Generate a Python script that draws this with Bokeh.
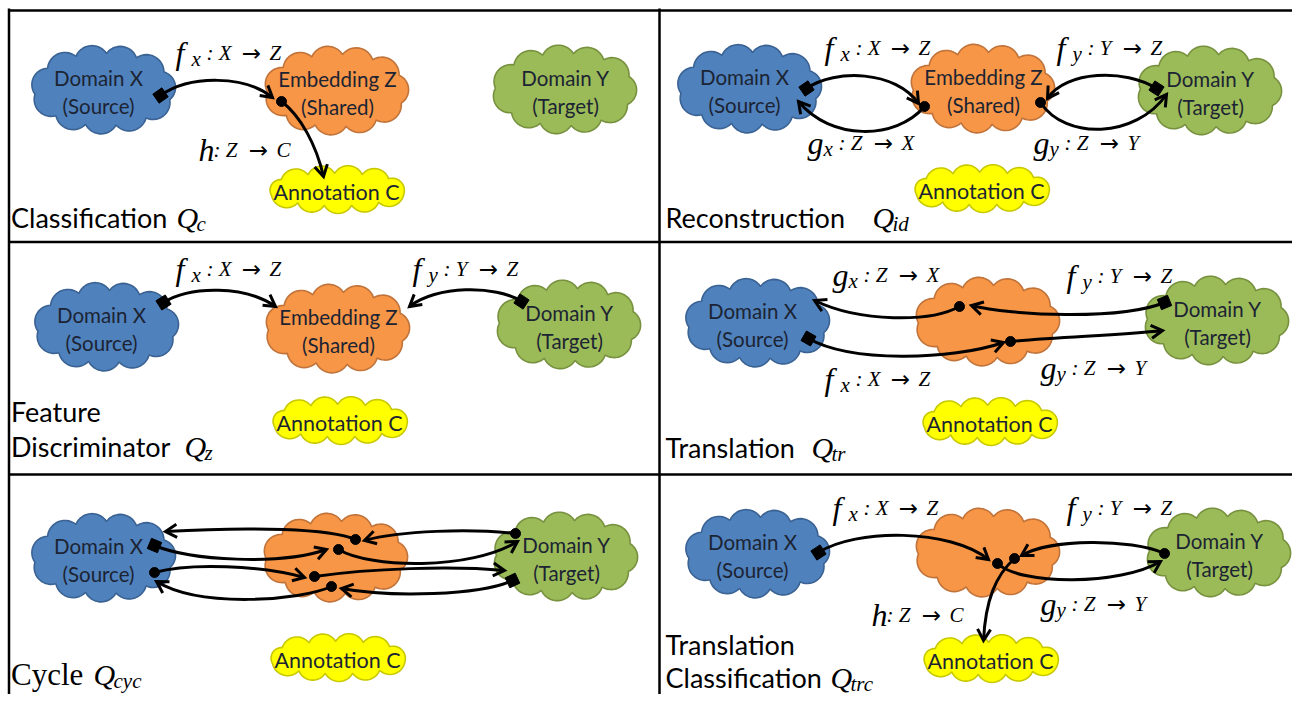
import math
from bokeh.plotting import figure
from bokeh.models import Range1d
from bokeh.embed import file_html
from bokeh.resources import INLINE
from bokeh.core.properties import value

# ---------------- content ----------------
cloud_keys = ["X", "Z", "Y", "C"]
cloud_text = {
    "X": ["Domain X", "(Source)"],
    "Z": ["Embedding Z", "(Shared)"],
    "Y": ["Domain Y", "(Target)"],
    "C": ["Annotation C"],
}
cloud_fill = {"X": "#4F81BD", "Z": "#F79646", "Y": "#9BBB59", "C": "#FFFF00"}
cloud_edge = {"X": "#3A6293", "Z": "#C0733A", "Y": "#77913F", "C": "#C8C800"}
show_z_text = [True, True, True, False, False, False]

panel_titles = [["Classification"], ["Reconstruction"], ["Feature", "Discriminator"],
                ["Translation"], ["Cycle"], ["Translation", "Classification"]]
panel_q_sub = ["c", "id", "z", "tr", "cyc", "trc"]

# cloud centres per panel (X, Z, Y, C)
cloud_cx = [[103, 336, 564, 336], [749, 982, 1209, 981], [106, 337, 568, 339],
            [757, 987, 1216, 989], [103, 335, 565, 337], [757, 987, 1218, 990]]
cloud_cy = [[89, 90, 89, 189], [88, 88, 90, 188], [326, 328, 324, 420],
            [322, 321, 320, 421], [557, 557, 556, 657], [553, 552, 552, 658]]

# curves per panel: (x0, y0, cx0, cy0, cx1, cy1, x1, y1, start marker)
curves = [
    [(160, 95, 190, 74, 245, 75, 272, 97, "sq"),
     (281, 101, 300, 115, 316, 145, 323, 176, "dot")],
    [(806, 88, 835, 68, 895, 70, 918, 103, "sq"),
     (924, 106, 895, 140, 830, 140, 798, 101, "dot"),
     (1156, 88, 1125, 68, 1065, 70, 1047, 98, "sq"),
     (1040, 102, 1065, 140, 1135, 138, 1166, 94, "dot")],
    [(163, 302, 190, 285, 245, 285, 275, 306, "sq"),
     (521, 301, 495, 284, 435, 285, 409, 306, "sq")],
    [(959, 306, 930, 322, 860, 322, 814, 300, "dot"),
     (1164, 302, 1120, 320, 1010, 315, 971, 305, "sq"),
     (808, 338, 850, 362, 950, 360, 1003, 342, "sq"),
     (1010, 341, 1060, 336, 1120, 335, 1162, 330, "dot")],
    [(515, 533, 470, 528, 400, 530, 364, 540, "dot"),
     (355, 539, 330, 528, 250, 526, 165, 531, "dot"),
     (154, 545, 190, 560, 280, 565, 326, 549, "sq"),
     (338, 549, 370, 568, 470, 570, 517, 541, "dot"),
     (154, 572, 190, 562, 260, 565, 304, 577, "dot"),
     (314, 576, 370, 568, 450, 565, 504, 570, "dot"),
     (512, 580, 480, 595, 390, 597, 341, 588, "sq"),
     (331, 586, 300, 600, 200, 608, 156, 581, "dot")],
    [(818, 552, 855, 528, 950, 528, 988, 559, "sq"),
     (1164, 553, 1130, 538, 1050, 538, 1021, 555, "dot"),
     (997, 563, 1020, 585, 1120, 585, 1160, 561, "dot"),
     (1014, 558, 995, 575, 985, 600, 983, 640, "dot")],
]

# math labels per panel: (x, centre y, letter, subscript, from, to)
math_labels = [
    [(175, 52, "f", "x", "X", "Z"), (198, 149, "h", "", "Z", "C")],
    [(824, 47, "f", "x", "X", "Z"), (1056, 47, "f", "y", "Y", "Z"),
     (807, 142, "g", "x", "Z", "X"), (1033, 142, "g", "y", "Z", "Y")],
    [(175, 268, "f", "x", "X", "Z"), (412, 268, "f", "y", "Y", "Z")],
    [(832, 274, "g", "x", "Z", "X"), (1066, 275, "f", "y", "Y", "Z"),
     (824, 378, "f", "x", "X", "Z"), (1040, 367, "g", "y", "Z", "Y")],
    [],
    [(832, 507, "f", "x", "X", "Z"), (1066, 507, "f", "y", "Y", "Z"),
     (1040, 603, "g", "y", "Z", "Y"), (871, 614, "h", "", "Z", "C")],
]

title_x = [10.5, 665, 10.5, 665, 10.5, 665]
title_mid = [[217], [217], [411, 446], [447], [674], [644, 677]]
title_q_x = [176, 872, 184, 811, 93, 830]

SANS = "Lato"
SERIF = "Liberation Serif"

# ---------------- figure ----------------
p = figure(width=1292, height=694, x_range=Range1d(0, 1292), y_range=Range1d(694, 0),
           output_backend="svg", toolbar_location=None, min_border=0)
p.axis.visible = False
p.grid.visible = False
p.outline_line_color = None
p.background_fill_color = "white"


def cloud_shape(cx, cy, w, h, n, s_frac, phase):
    perim_guess = math.pi * (w + h) / 2
    s0 = s_frac * perim_guess / n
    rx, ry = w / 2 - s0, h / 2 - s0
    M = 720
    ex = [cx + rx * math.cos(2 * math.pi * k / M) for k in range(M + 1)]
    ey = [cy + ry * math.sin(2 * math.pi * k / M) for k in range(M + 1)]
    cum = [0.0]
    for k in range(M):
        cum.append(cum[-1] + math.hypot(ex[k + 1] - ex[k], ey[k + 1] - ey[k]))
    total = cum[-1]
    pts = []
    j = 0
    for i in range(n):
        target = ((i + phase) / n) * total
        while j < M and cum[j + 1] < target:
            j += 1
        pts.append((ex[j], ey[j]))
    xs, ys = [], []
    for i in range(n):
        ax, ay = pts[i]
        bx, by = pts[(i + 1) % n]
        dx, dy = bx - ax, by - ay
        L = math.hypot(dx, dy)
        nx, ny = dy / L, -dx / L
        mx, my = (ax + bx) / 2, (ay + by) / 2
        if nx * (mx - cx) + ny * (my - cy) < 0:
            nx, ny = -nx, -ny
        s = s_frac * L
        R = (L * L / 4 + s * s) / (2 * s)
        ox, oy = mx + nx * (s - R), my + ny * (s - R)
        phi = math.asin(min(1.0, L / (2 * R)))
        if s > R:
            phi = math.pi - phi
        tc = math.atan2(ny, nx)
        arc = [(ox + R * math.cos(tc + t), oy + R * math.sin(tc + t))
               for t in [(-phi + 2 * phi * q / 14) for q in range(15)]]
        if math.hypot(arc[0][0] - ax, arc[0][1] - ay) > math.hypot(arc[-1][0] - ax, arc[-1][1] - ay):
            arc.reverse()
        for (qx, qy) in arc:
            xs.append(qx)
            ys.append(qy)
    return xs, ys


# clouds
for pi in range(6):
    for ci, key in enumerate(cloud_keys):
        cx, cy = cloud_cx[pi][ci], cloud_cy[pi][ci]
        if key == "C":
            xs, ys = cloud_shape(cx, cy, 158, 50, 11, 0.3, 0.2)
        else:
            xs, ys = cloud_shape(cx, cy, 160, 94, 11, 0.3, 0.35 + 0.1 * ci)
        p.patch(xs, ys, fill_color=cloud_fill[key], line_color=cloud_edge[key], line_width=1.6)
        lines = cloud_text[key]
        if key == "Z" and not show_z_text[pi]:
            continue
        if key == "C":
            p.text([cx], [cy + 2], text=lines, text_align="center", text_baseline="middle",
                   text_font=value(SANS), text_font_size="21.5px", text_color="#1c2433")
        else:
            dx = -5 if key == "X" else 1
            p.text([cx + dx, cx + dx], [cy - 12, cy + 16], text=lines, text_align="center",
                   text_baseline="middle", text_font=value(SANS), text_font_size="20.5px",
                   text_color="#1c2433")

# curves
for pi in range(6):
    for (x0, y0, c0x, c0y, c1x, c1y, x1, y1, mk) in curves[pi]:
        p.bezier(x0=[x0], y0=[y0], x1=[x1], y1=[y1], cx0=[c0x], cy0=[c0y], cx1=[c1x], cy1=[c1y],
                 line_color="black", line_width=3)
        dx, dy = x1 - c1x, y1 - c1y
        L = math.hypot(dx, dy)
        ux, uy = dx / L, dy / L
        hl, ang = 13, math.radians(30)
        pts = []
        for sgn in (1, -1):
            ca, sa = math.cos(sgn * ang), math.sin(sgn * ang)
            rx, ry = ux * ca - uy * sa, ux * sa + uy * ca
            pts.append((x1 - rx * hl, y1 - ry * hl))
        p.line([pts[0][0], x1, pts[1][0]], [pts[0][1], y1, pts[1][1]], line_color="black",
               line_width=3, line_join="miter")
        sdx, sdy = c0x - x0, c0y - y0
        angle = math.atan2(-sdy, sdx)
        if mk == "sq":
            p.scatter([x0], [y0], marker="square", size=11, angle=angle, fill_color="black",
                      line_color="black")
        else:
            p.scatter([x0], [y0], marker="circle", size=10, fill_color="black", line_color="black")


def serif_text(x, y, t, size, italic=True, align="left"):
    p.text([x], [y], text=[t], text_font=value(SERIF), text_font_style="italic" if italic else "normal",
           text_font_size=size, text_baseline="middle", text_align=align, text_color="black")


# math labels
for pi in range(6):
    for (x, yc, main, sub, src, dst) in math_labels[pi]:
        serif_text(x, yc, main, "32px")
        off = 0
        if sub:
            serif_text(x + 16, yc + 6, sub, "21px")
            off = 16
        serif_text(x + off + 15, yc, ": " + src, "21px")
        p.text([x + off + 60], [yc], text=["\u2192"], text_font=value("DejaVu Sans"),
               text_font_size="23px", text_baseline="middle", text_align="center",
               text_color="black")
        serif_text(x + off + 78, yc, dst, "21px")

# titles
for pi in range(6):
    lines = panel_titles[pi]
    mids = title_mid[pi]
    serif_title = lines[0] == "Cycle"
    for li, line in enumerate(lines):
        p.text([title_x[pi]], [mids[li]], text=[line], text_font=value(SERIF if serif_title else SANS),
               text_font_size="31px" if serif_title else "27px", text_baseline="middle",
               text_align="left", text_color="black")
    qx = title_q_x[pi]
    serif_text(qx, mids[-1], "Q", "30px")
    serif_text(qx + 20, mids[-1] + 6, panel_q_sub[pi], "21px")

# panel borders
p.segment(x0=[8, 8.5, 659, 8, 8], y0=[10, 8, 8, 241.5, 474], x1=[1300, 8.5, 659, 1300, 1300],
          y1=[10, 702, 702, 241.5, 474], line_color="black", line_width=2.5)

open("out.html", "w").write(file_html(p, INLINE))
